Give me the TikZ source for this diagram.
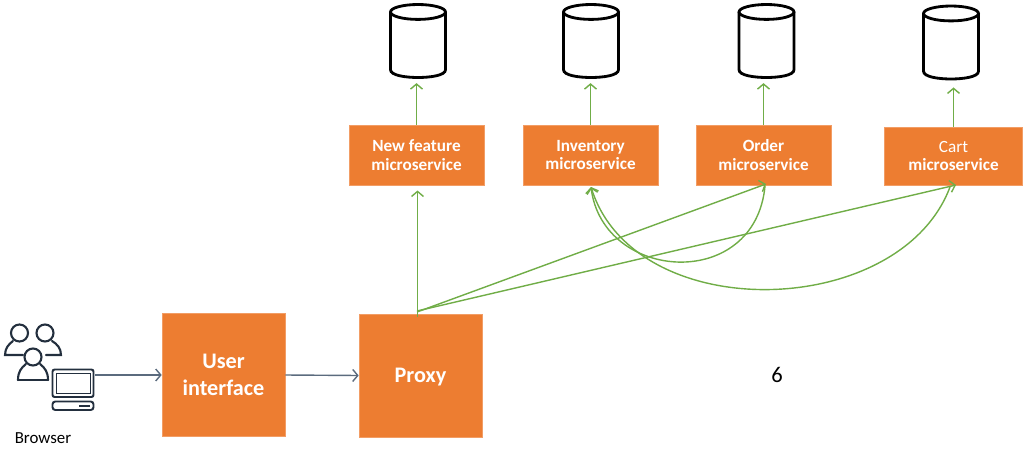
\documentclass[tikz,border=0pt]{standalone}
\usepackage{fontspec}
\setmainfont{Carlito}
\usetikzlibrary{arrows.meta,positioning}
\definecolor{boxorange}{HTML}{ED7D31}
\definecolor{linkgreen}{HTML}{70AD47}
\definecolor{slateline}{HTML}{5B6B7E}
\definecolor{icondark}{HTML}{232F3E}
\tikzset{
    servicebox/.style={draw=boxorange!75!white, line width=0.4pt, fill=boxorange, text=white,
        align=center, minimum width=96pt, minimum height=42.6pt, inner sep=0pt,
        font=\fontsize{12.2}{13.2}\selectfont\bfseries},
    bigbox/.style={draw=boxorange!75!white, line width=0.4pt, fill=boxorange, text=white,
        align=center, minimum width=87.5pt, minimum height=87.5pt, inner sep=0pt,
        font=\fontsize{15.8}{19}\selectfont\bfseries},
    dbbox/.style={minimum width=39.1pt, minimum height=51.9pt, inner sep=0pt, outer sep=0pt},
    dbline/.style={draw=black, line width=2pt},
    greenlink/.style={->, linkgreen, line width=1pt},
    slatelink/.style={->, slateline, line width=1pt},
    person/.style={draw=icondark, line width=1.5pt, line cap=round},
    >={Straight Barb[length=3.6pt,width=8.5pt]}
}
\newcommand{\dbcan}[3]{
    \node[dbbox] (#1) at (#2,#3) {};
    \draw[dbline] ([yshift=-5.3pt]#1.north) ellipse [x radius=19.55pt, y radius=5.3pt];
    \draw[dbline] ([yshift=-5.3pt]#1.north west) -- ([yshift=5.5pt]#1.south west)
        .. controls ([yshift=1.5pt]#1.south west) and ([xshift=-9pt]#1.south) .. (#1.south)
        .. controls ([xshift=9pt]#1.south) and ([yshift=1.5pt]#1.south east) .. ([yshift=5.5pt]#1.south east)
        -- ([yshift=-5.3pt]#1.north east);
}
\begin{document}
\begin{tikzpicture}[x=0.025cm, y=-0.025cm]
    \useasboundingbox (0,0) rectangle (1024,460);

    % Services
    \node[servicebox] (newfeature) at (416.5,155) {New feature\\microservice};
    \node[servicebox] (inventory) at (590.5,155) {Inventory\\microservice};
    \node[servicebox] (order) at (763.5,155) {Order\\microservice};
    \node[servicebox, minimum width=98.5pt, minimum height=41pt] (cart) at (953.5,156)
        {{\mdseries Cart}\\microservice};

    % Databases
    \dbcan{dbnew}{418}{41}
    \dbcan{dbinventory}{591}{41}
    \dbcan{dborder}{766.5}{41}
    \dbcan{dbcart}{951}{42.5}

    % Front
    \node[bigbox] (ui) at (223.5,375) {User\\interface};
    \node[bigbox, text depth=0pt] (proxy) at (420.5,375.5) {Proxy};
    \node[font=\fontsize{16}{18}\selectfont] (pagenum) at (777,375) {6};
    \node[font=\fontsize{12}{14}\selectfont] (browser) at (43,438) {Browser};

    % Users
    \draw[person] (19.5,333) circle (8.5);
    \draw[person] (45,333) circle (8.5);
    \draw[person] (33,357) circle (8.5);
    \draw[person] (23,355) -- (5,355) .. controls (5,348) and (9,344) .. (13,341);
    \draw[person] (46,355) -- (61,355) .. controls (61,348) and (57,344) .. (52,341);
    \draw[person] (18,380) .. controls (18,372) and (21,368) .. (26,364);
    \draw[person] (48,380) .. controls (48,372) and (45,368) .. (40,364);
    \draw[person] (18,380) -- (48,380);

    % Computer
    \draw[icondark, line width=1.4pt, rounded corners=1.5pt] (52.5,369.5) rectangle (93.5,397);
    \draw[icondark, line width=0.5pt] (56,373) rectangle (90,393.5);
    \draw[icondark, line width=1.4pt, rounded corners=2pt] (52.5,401.5) rectangle (93.5,410);
    \fill[icondark] (79,404.5) rectangle (90,407);
    \coordinate (pcout) at (95,375);

    % Front links
    \draw[slatelink] (pcout) -- (ui.west |- pcout);
    \draw[slatelink] (ui.east) -- (proxy.west);

    % Up to the databases
    \draw[greenlink, shorten >=4pt] (newfeature.north) -- (dbnew.south -| newfeature.north);
    \draw[greenlink, shorten >=4pt] (inventory.north) -- (dbinventory.south -| inventory.north);
    \draw[greenlink, shorten >=4pt] (order.north) -- (dborder.south -| order.north);
    \draw[greenlink, shorten >=6pt] (cart.north) -- (dbcart.south -| cart.north);

    % Proxy links
    \coordinate (proxyup) at (417.5,317);
    \coordinate (newin) at (417.5,190.5);
    \coordinate (proxyorder) at (417,312);
    \coordinate (proxycart) at (417,311);
    \coordinate (orderin) at (766,184);
    \coordinate (cartin) at (956,185);
    \coordinate (inventoryin) at (591,187);
    \coordinate (orderback) at (765,186);
    \coordinate (cartback) at (950,187);
    \draw[greenlink] (proxyup) -- (newin);
    \draw[greenlink] (proxyorder) -- (orderin);
    \draw[greenlink] (proxycart) -- (cartin);

    % Back to inventory
    \draw[greenlink] (orderback) .. controls (755,292) and (603,282) .. (inventoryin);
    \draw[greenlink] (cartback) .. controls (900,320) and (635,327) .. (inventoryin);
\end{tikzpicture}
\end{document}
